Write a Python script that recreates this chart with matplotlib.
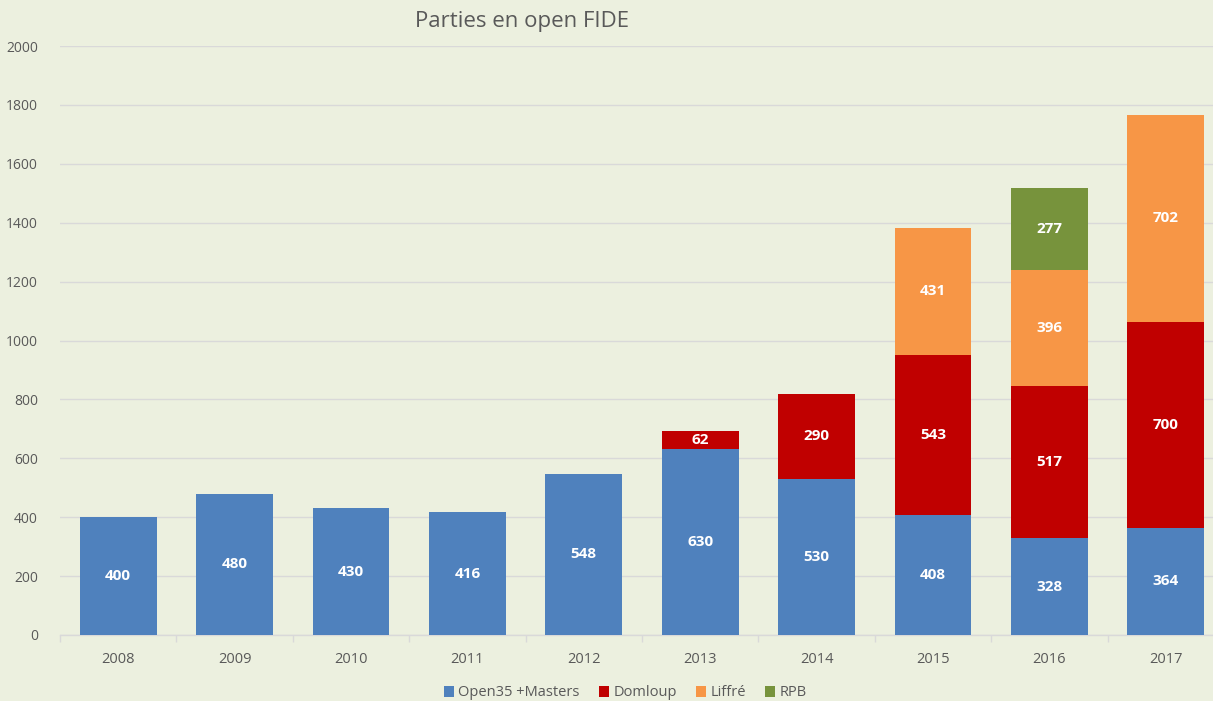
import matplotlib
matplotlib.use("Agg")
import matplotlib.pyplot as plt
import numpy as np

years = ["2008", "2009", "2010", "2011", "2012", "2013", "2014", "2015", "2016", "2017"]
series_names = ["Open35 +Masters", "Domloup", "Liffré", "RPB"]
open35 = [400, 480, 430, 416, 548, 630, 530, 408, 328, 364]
domloup = [0, 0, 0, 0, 0, 62, 290, 543, 517, 700]
liffre = [0, 0, 0, 0, 0, 0, 0, 431, 396, 702]
rpb = [0, 0, 0, 0, 0, 0, 0, 0, 277, 0]
colors = ["#4F81BD", "#C00000", "#F79646", "#77933C"]

bg = "#ECF0DF"
plt.rcParams['font.family'] = ['Open Sans', 'DejaVu Sans']

fig = plt.figure(figsize=(12.13, 7.01), dpi=100, facecolor=bg)
ax = fig.add_axes([60/1213, 66/701, 1164/1213, 589/701], facecolor=bg)

x = np.arange(len(years))
bottom = np.zeros(len(years))
for name, vals, c in zip(series_names, [open35, domloup, liffre, rpb], colors):
    vals = np.array(vals, dtype=float)
    ax.bar(x, vals, width=0.66, bottom=bottom, color=c, label=name, zorder=3)
    for xi, v, b in zip(x, vals, bottom):
        if v > 0:
            ax.text(xi, b + v / 2, f"{int(v)}", ha="center", va="center",
                    color="white", fontsize=11, fontweight="bold", zorder=4)
    bottom += vals

ax.set_xlim(-0.5, 9.5)
ax.set_ylim(0, 2000)
ax.set_yticks(np.arange(0, 2001, 200))
ax.yaxis.grid(True, color="#D9D9D9", linewidth=1, zorder=0)
ax.set_axisbelow(True)
for s in ["top", "right", "left"]:
    ax.spines[s].set_visible(False)
ax.spines["bottom"].set_color("#D9D9D9")
ax.spines["bottom"].set_linewidth(1)
ax.tick_params(axis="y", length=0, labelsize=10, labelcolor="#595959", pad=16)
ax.set_xticks(x)
ax.set_xticklabels(years)
ax.tick_params(axis="x", length=0, labelsize=10.5, labelcolor="#595959", pad=12)
ax.set_xticks(np.arange(-0.5, 10, 1), minor=True)
ax.tick_params(axis="x", which="minor", length=5, color="#D9D9D9", width=1)

fig.text(522/1213, 1 - 22/701, "Parties en open FIDE", ha="center", va="center",
         fontsize=16, color="#595959")

handles, labels = ax.get_legend_handles_labels()
leg = fig.legend(handles, labels, loc="center", bbox_to_anchor=(625/1213, 1 - 693/701),
                 ncol=4, frameon=False, fontsize=10.5, handlelength=0.7, handleheight=0.7,
                 columnspacing=1.3, handletextpad=0.3, labelcolor="#595959")

fig.savefig("out.png", dpi=100, facecolor=bg)
